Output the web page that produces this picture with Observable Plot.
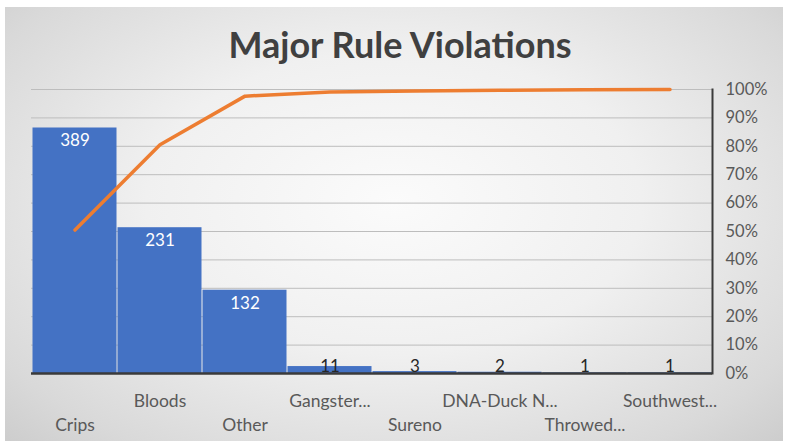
<!DOCTYPE html>
<html>
<head>
<meta charset="utf-8">
<script src="https://cdn.jsdelivr.net/npm/d3@7"></script>
<script src="https://cdn.jsdelivr.net/npm/@observablehq/plot@0.6"></script>
<style>
  html, body { margin: 0; padding: 0; background: #ffffff; }
  #wrap { position: relative; width: 786px; height: 445px; overflow: hidden; background: #ffffff; }
  #bg { position: absolute; left: 5px; top: 7px; width: 778px; height: 434px;
        background: radial-gradient(ellipse at 50% 45%, #fbfbfb 0%, #f0f0f0 45%, #d9d9d9 85%, #cdcdcd 100%); }
  #title { position: absolute; left: 0; top: 22px; width: 800px; text-align: center;
           font-family: Lato, "Open Sans", sans-serif; font-weight: 700; font-size: 36px; color: #404040; }
  #chart { position: absolute; left: 0; top: 0; }
</style>
</head>
<body>
<div id="wrap">
  <div id="bg"></div>
  <div id="title">Major Rule Violations</div>
  <div id="chart"></div>
</div>
<script>
const categories = ["Crips", "Bloods", "Other", "Gangster...", "Sureno", "DNA-Duck N...", "Throwed...", "Southwest..."];
const counts = [389, 231, 132, 11, 3, 2, 1, 1];
const leftAxisMax = 450;
const percentTicks = [0, 0.1, 0.2, 0.3, 0.4, 0.5, 0.6, 0.7, 0.8, 0.9, 1.0];

const total = d3.sum(counts);
const cum = d3.cumsum(counts);
const data = categories.map((c, i) => ({
  cat: c,
  count: counts[i],
  share: counts[i] / leftAxisMax,
  cum: cum[i] / total,
  row: i % 2
}));

const font = "Lato, 'Open Sans', sans-serif";

const chart = Plot.plot({
  width: 786,
  height: 445,
  marginLeft: 31,
  marginRight: 74,
  marginTop: 89,
  marginBottom: 72,
  style: { background: "transparent", fontFamily: font, overflow: "visible" },
  x: { domain: categories, padding: 0, axis: null },
  y: { domain: [0, 1], axis: null },
  marks: [
    Plot.gridY(percentTicks, { stroke: "#bdbdbd", strokeOpacity: 1, strokeWidth: 1 }),
    Plot.barY(data, { x: "cat", y: "share", fill: "#4472C4", insetLeft: 0.5, insetRight: 0.5 }),
    Plot.ruleY([0], { stroke: "#3a3a3a", strokeWidth: 2.5 }),
    Plot.frame({ anchor: "right", stroke: "#3a3a3a", strokeWidth: 2 }),
    Plot.axisY(percentTicks, {
      anchor: "right", tickSize: 0, tickPadding: 13, tickFormat: d3.format(".0%"),
      fontSize: 16.5, fill: "#595959", textAnchor: "start", label: null
    }),
    Plot.lineY(data, { x: "cat", y: "cum", stroke: "#ED7D31", strokeWidth: 3.5, strokeLinejoin: "round" }),
    Plot.text(data.filter(d => d.count >= 50), {
      x: "cat", y: "share", text: d => String(d.count), dy: 13,
      fill: "#ffffff", fontSize: 17
    }),
    Plot.text(data.filter(d => d.count < 50), {
      x: "cat", y: 0, text: d => String(d.count), dy: -7,
      fill: "#262626", fontSize: 17
    }),
    Plot.text(data.filter(d => d.row === 1), {
      x: "cat", frameAnchor: "bottom", text: "cat", dy: 33,
      fill: "#595959", fontSize: 17.5
    }),
    Plot.text(data.filter(d => d.row === 0), {
      x: "cat", frameAnchor: "bottom", text: "cat", dy: 57,
      fill: "#595959", fontSize: 17.5
    })
  ]
});
document.getElementById("chart").appendChild(chart);
</script>
</body>
</html>
